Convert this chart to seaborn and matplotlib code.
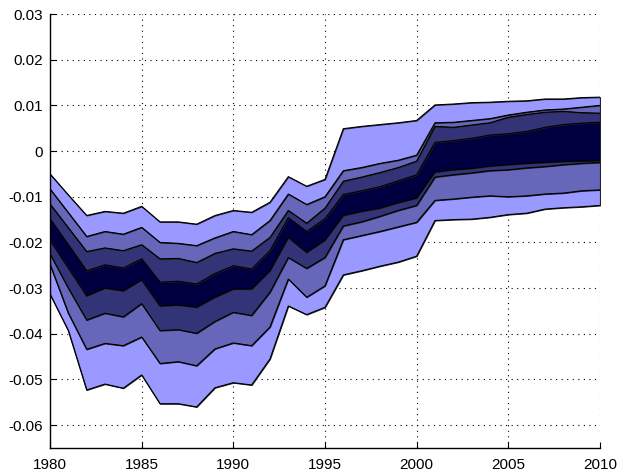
import numpy as np
import pandas as pd
import matplotlib
matplotlib.use("Agg")
import matplotlib.pyplot as plt
import seaborn as sns

years = list(range(1980, 2011))

# Boundaries of the fan, top (q1) to bottom (q8)
q1 = [-0.0050, -0.0096, -0.0141, -0.0132, -0.0136, -0.0121, -0.0155, -0.0155, -0.0160, -0.0141,
      -0.0130, -0.0134, -0.0112, -0.0056, -0.0077, -0.0062, 0.0049, 0.0054, 0.0058, 0.0062,
      0.0067, 0.0101, 0.0103, 0.0106, 0.0107, 0.0109, 0.0110, 0.0114, 0.0114, 0.0117, 0.0118]
q2 = [-0.0083, -0.0135, -0.0187, -0.0176, -0.0182, -0.0167, -0.0200, -0.0202, -0.0207, -0.0190,
      -0.0176, -0.0183, -0.0152, -0.0094, -0.0117, -0.0100, -0.0043, -0.0036, -0.0027, -0.0020,
      -0.0009, 0.0062, 0.0063, 0.0067, 0.0071, 0.0079, 0.0085, 0.0090, 0.0092, 0.0096, 0.0100]
q3 = [-0.0116, -0.0168, -0.0220, -0.0212, -0.0218, -0.0205, -0.0236, -0.0235, -0.0244, -0.0224,
      -0.0214, -0.0219, -0.0189, -0.0130, -0.0158, -0.0125, -0.0066, -0.0057, -0.0047, -0.0036,
      -0.0022, 0.0054, 0.0052, 0.0057, 0.0062, 0.0074, 0.0080, 0.0085, 0.0087, 0.0084, 0.0083]
q4 = [-0.0148, -0.0205, -0.0262, -0.0249, -0.0256, -0.0236, -0.0287, -0.0285, -0.0291, -0.0268,
      -0.0251, -0.0258, -0.0218, -0.0146, -0.0176, -0.0148, -0.0095, -0.0087, -0.0078, -0.0065,
      -0.0052, 0.0019, 0.0023, 0.0028, 0.0035, 0.0038, 0.0043, 0.0052, 0.0058, 0.0061, 0.0063]
q5 = [-0.0195, -0.0256, -0.0317, -0.0300, -0.0306, -0.0282, -0.0339, -0.0337, -0.0342, -0.0320,
      -0.0302, -0.0302, -0.0262, -0.0189, -0.0222, -0.0195, -0.0141, -0.0132, -0.0125, -0.0113,
      -0.0103, -0.0046, -0.0041, -0.0038, -0.0033, -0.0030, -0.0027, -0.0025, -0.0023, -0.0022, -0.0021]
q6 = [-0.0225, -0.0300, -0.0370, -0.0355, -0.0363, -0.0334, -0.0393, -0.0391, -0.0399, -0.0373,
      -0.0353, -0.0360, -0.0309, -0.0233, -0.0257, -0.0233, -0.0164, -0.0155, -0.0143, -0.0130,
      -0.0119, -0.0057, -0.0052, -0.0048, -0.0043, -0.0041, -0.0037, -0.0034, -0.0030, -0.0027, -0.0025]
q7 = [-0.0248, -0.0355, -0.0434, -0.0421, -0.0426, -0.0407, -0.0465, -0.0461, -0.0470, -0.0433,
      -0.0420, -0.0426, -0.0385, -0.0280, -0.0320, -0.0295, -0.0194, -0.0185, -0.0176, -0.0166,
      -0.0156, -0.0108, -0.0105, -0.0101, -0.0098, -0.0100, -0.0098, -0.0094, -0.0092, -0.0087, -0.0085]
q8 = [-0.0313, -0.0393, -0.0523, -0.0510, -0.0519, -0.0490, -0.0553, -0.0553, -0.0560, -0.0518,
      -0.0507, -0.0512, -0.0455, -0.0339, -0.0358, -0.0342, -0.0271, -0.0262, -0.0252, -0.0243,
      -0.0230, -0.0152, -0.0150, -0.0149, -0.0145, -0.0139, -0.0136, -0.0127, -0.0124, -0.0122, -0.0119]

x_ticks = [1980, 1985, 1990, 1995, 2000, 2005, 2010]
y_ticks = [0.03, 0.02, 0.01, 0.0, -0.01, -0.02, -0.03, -0.04, -0.05, -0.06]
y_labels = ['0.03', '0.02', '0.01', '0', '-0.01', '-0.02', '-0.03', '-0.04', '-0.05', '-0.06']

light = '#9999ff'
medium = '#6666bb'
darkmed = '#333377'
darkest = '#000040'
band_colors = [light, medium, darkmed, darkest, darkmed, medium, light]

sns.set_style("white")
plt.rcParams['font.family'] = ['Liberation Sans', 'DejaVu Sans']

fig = plt.figure(figsize=(6.17, 4.75), dpi=100)
ax = fig.add_axes([0.081, 0.0568, 0.8914, 0.9137])

bounds = [q1, q2, q3, q4, q5, q6, q7, q8]
for i, c in enumerate(band_colors):
    ax.fill_between(years, bounds[i], bounds[i + 1], facecolor=c,
                    edgecolor='#222222', linewidth=0.8, zorder=2)

df = pd.DataFrame({'year': years * 8,
                   'value': np.concatenate(bounds),
                   'line': np.repeat([f'q{i+1}' for i in range(8)], len(years))})
sns.lineplot(data=df, x='year', y='value', units='line', estimator=None,
             color='black', linewidth=0.8, ax=ax, legend=False, zorder=3)

ax.set_xlim(1980, 2010)
ax.set_ylim(-0.065, 0.03)
ax.set_xticks(x_ticks)
ax.set_xticklabels([str(t) for t in x_ticks])
ax.set_yticks(y_ticks)
ax.set_yticklabels(y_labels)
ax.set_xlabel('')
ax.set_ylabel('')

ax.grid(True, linestyle=(0, (1, 4)), color='black', linewidth=0.8, zorder=1)
ax.set_axisbelow(True)
for s in ['top', 'right']:
    ax.spines[s].set_visible(False)
for s in ['left', 'bottom']:
    ax.spines[s].set_visible(True)
    ax.spines[s].set_color('black')
    ax.spines[s].set_linewidth(1.0)
    ax.spines[s].set_zorder(4)
ax.tick_params(direction='in', length=4, width=0.8, colors='black', labelsize=11,
               left=True, bottom=True)
ax.tick_params(axis='x', pad=7)
ax.tick_params(axis='y', pad=5)

fig.savefig('out.png', dpi=100)
